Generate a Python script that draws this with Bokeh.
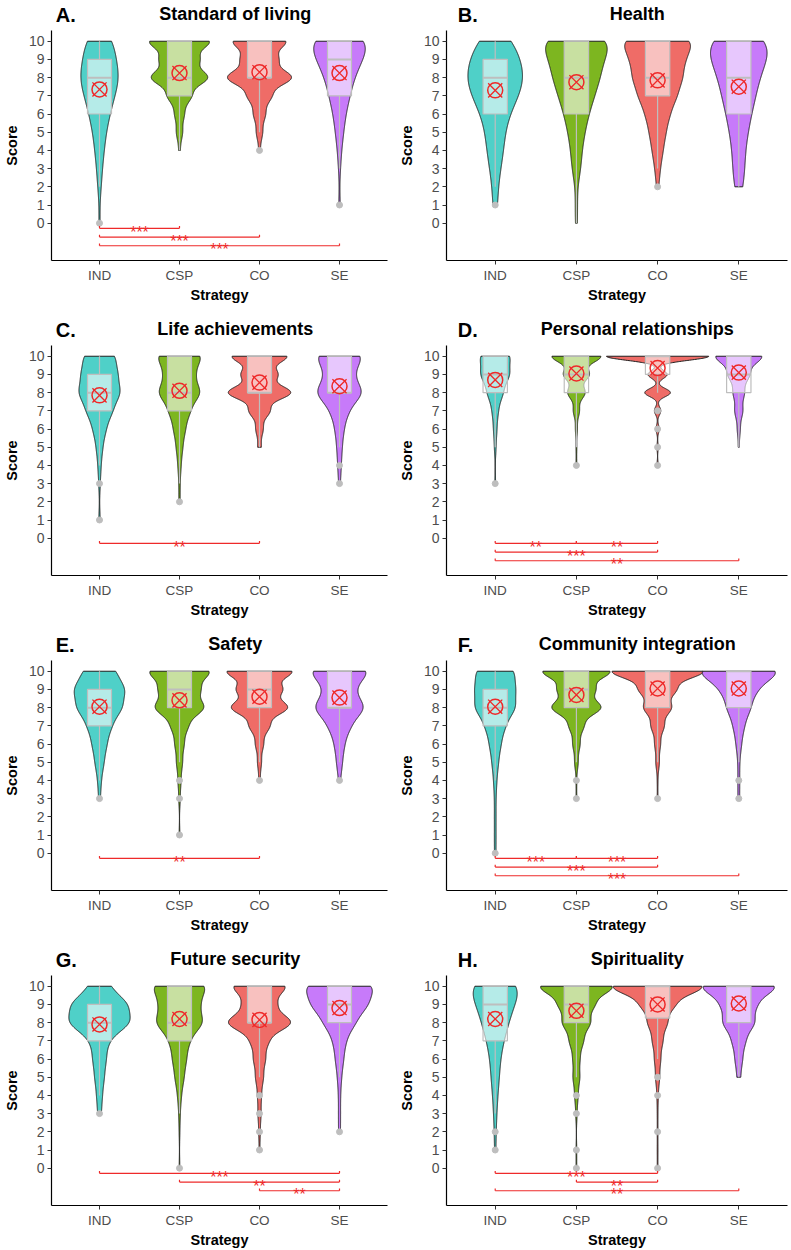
import numpy as np
from bokeh.core.properties import value
from bokeh.embed import file_html
from bokeh.layouts import gridplot
from bokeh.models import ColumnDataSource, FixedTicker, Range1d
from bokeh.plotting import figure
from bokeh.resources import INLINE

FONT = "Liberation Sans"

# ---------------------------------------------------------------- data
STRATEGIES = ["IND", "CSP", "CO", "SE"]
SCORES = list(range(11))
TAGS = ["A.", "B.", "C.", "D.", "E.", "F.", "G.", "H."]
DOMAINS = ["Standard of living", "Health", "Life achievements",
           "Personal relationships", "Safety", "Community integration",
           "Future security", "Spirituality"]

# respondents per strategy group (drives the kernel bandwidth)
GROUP_N = [100, 250, 250, 90]

# share of respondents (%) giving each score 0..10, per strategy
living_freq = {"IND": [1, 0, 2, 3, 5, 7, 11, 16, 22, 17, 16],
               "CSP": [0, 0, 0, 0, 1, 3, 5, 12, 29, 19, 31],
               "CO":  [0, 0, 0, 0, 1, 3, 6, 12, 33, 18, 27],
               "SE":  [0, 1, 0, 1, 2, 4, 7, 11, 16, 25, 33]}
health_freq = {"IND": [0, 2, 2, 4, 6, 7, 10, 17, 21, 18, 13],
               "CSP": [1, 1, 1, 3, 4, 6, 9, 13, 17, 19, 26],
               "CO":  [0, 0, 1, 2, 4, 6, 9, 14, 18, 19, 27],
               "SE":  [0, 0, 3, 4, 5, 7, 9, 12, 14, 20, 26]}
achieve_freq = {"IND": [0, 1, 0, 1, 2, 4, 8, 16, 26, 22, 20],
                "CSP": [0, 0, 1, 1, 2, 4, 7, 13, 26, 18, 28],
                "CO":  [0, 0, 0, 0, 0, 2, 4, 11, 34, 19, 30],
                "SE":  [0, 0, 0, 1, 2, 3, 6, 11, 30, 17, 30]}
relation_freq = {"IND": [0, 0, 0, 1, 0, 2, 4, 7, 18, 33, 35],
                 "CSP": [0, 0, 0, 0, 1, 1, 2, 6, 17, 25, 48],
                 "CO":  [0, 0, 0, 0, 1, 1, 2, 4, 16, 12, 64],
                 "SE":  [0, 0, 0, 0, 0, 1, 3, 9, 12, 23, 52]}
safety_freq = {"IND": [0, 0, 0, 1, 2, 5, 8, 13, 25, 28, 18],
               "CSP": [0, 0.5, 0, 1, 1.5, 3, 5, 9, 26, 21, 33],
               "CO":  [0, 0, 0, 0, 1, 2, 4, 10, 28, 22, 33],
               "SE":  [0, 0, 0, 0, 1, 3, 6, 12, 29, 15, 34]}
community_freq = {"IND": [0.5, 0.5, 0.5, 0.5, 2, 4, 7, 12, 25, 24, 24],
                  "CSP": [0, 0, 0, 0.5, 0.5, 2, 4, 8, 27, 20, 38],
                  "CO":  [0, 0, 0, 0.5, 0.5, 2, 3, 7, 15, 20, 52],
                  "SE":  [0, 0, 0, 0.5, 1, 1.5, 3, 7, 14, 21, 52]}
future_freq = {"IND": [0, 0, 0, 2, 3, 5, 7, 9, 33, 30, 11],
               "CSP": [0.5, 0, 0.5, 1, 2, 5, 7, 10, 25, 20, 29],
               "CO":  [0, 0.5, 1, 1.5, 2, 4, 6, 9, 33, 16, 27],
               "SE":  [0, 0, 0.5, 0.5, 1, 2, 4, 7, 17, 30, 38]}
spirit_freq = {"IND": [0, 1, 1, 2, 3, 5, 6, 10, 16, 22, 34],
               "CSP": [0.5, 0.5, 0, 1, 2, 4, 4, 8, 16, 20, 44],
               "CO":  [0.5, 0.5, 0.5, 0.5, 1, 2.5, 3.5, 6, 11, 19, 55],
               "SE":  [0, 0, 0, 0, 0, 2, 4, 8, 19, 20, 47]}
FREQ = dict(zip(DOMAINS, [living_freq, health_freq, achieve_freq, relation_freq,
                          safety_freq, community_freq, future_freq, spirit_freq]))

# box-plot summaries, ordered IND, CSP, CO, SE
Q1 = {"Standard of living": [6, 7, 8, 7], "Health": [6, 6, 7, 6],
      "Life achievements": [7, 7, 8, 8], "Personal relationships": [8, 8, 9, 8],
      "Safety": [7, 8, 8, 8], "Community integration": [7, 8, 8, 8],
      "Future security": [7, 7, 8, 8], "Spirituality": [7, 8, 8.25, 8]}
MEDIAN = {"Standard of living": [8, 8, 8, 9], "Health": [8, 8, 8, 8],
          "Life achievements": [8, 8, 8, 8], "Personal relationships": [9, 9, 10, 9],
          "Safety": [8, 9, 9, 8], "Community integration": [8, 9, 10, 10],
          "Future security": [8, 8, 8, 9], "Spirituality": [9, 9, 10, 10]}
Q3 = {"Standard of living": [9, 10, 10, 10], "Health": [9, 10, 10, 10],
      "Life achievements": [9, 10, 10, 10], "Personal relationships": [10, 10, 10, 10],
      "Safety": [9, 10, 10, 10], "Community integration": [9, 10, 10, 10],
      "Future security": [9, 10, 10, 10], "Spirituality": [10, 10, 10, 10]}
WHISKER_LOW = {"Standard of living": [2, 4, 5, 3], "Health": [2, 0, 3, 2],
               "Life achievements": [4, 3, 5, 5], "Personal relationships": [5, 5, 8, 5],
               "Safety": [4, 5, 5, 5], "Community integration": [4, 5, 5, 5],
               "Future security": [4, 3, 5, 5], "Spirituality": [3, 5, 6, 5]}
WHISKER_HIGH = {d: [10, 10, 10, 10] for d in DOMAINS}
MEAN = {"Standard of living": [7.35, 8.25, 8.3, 8.25], "Health": [7.3, 7.75, 7.85, 7.5],
        "Life achievements": [7.85, 8.1, 8.55, 8.35],
        "Personal relationships": [8.7, 9.05, 9.35, 9.1],
        "Safety": [8.05, 8.4, 8.6, 8.55], "Community integration": [8.05, 8.7, 9.05, 9.05],
        "Future security": [7.9, 8.2, 8.15, 8.8], "Spirituality": [8.2, 8.65, 9.0, 9.05]}
OUTLIERS = {"Standard of living": [[0], [], [4], [1]],
            "Health": [[1], [], [2], []],
            "Life achievements": [[3, 1], [2], [], [4, 3]],
            "Personal relationships": [[3], [4], [7, 6, 5, 4], []],
            "Safety": [[3], [4, 3, 1], [4], [4]],
            "Community integration": [[0], [4, 3], [3], [4, 3]],
            "Future security": [[3], [0], [4, 3, 2, 1], [2]],
            "Spirituality": [[2, 1], [4, 3, 1, 0], [5, 4, 2, 0], []]}

# pairwise comparisons: (group, group, significance, bracket row)
SIGNIF = {"Standard of living": [("IND", "CSP", "***", 0), ("IND", "CO", "***", 1),
                                 ("IND", "SE", "***", 2)],
          "Health": [],
          "Life achievements": [("IND", "CO", "**", 0)],
          "Personal relationships": [("IND", "CSP", "**", 0), ("CSP", "CO", "**", 0),
                                     ("IND", "CO", "***", 1), ("IND", "SE", "**", 2)],
          "Safety": [("IND", "CO", "**", 0)],
          "Community integration": [("IND", "CSP", "***", 0), ("CSP", "CO", "***", 0),
                                    ("IND", "CO", "***", 1), ("IND", "SE", "***", 2)],
          "Future security": [("IND", "SE", "***", 0), ("CSP", "SE", "**", 1),
                              ("CO", "SE", "**", 2)],
          "Spirituality": [("IND", "CO", "***", 0), ("CSP", "CO", "**", 1),
                           ("IND", "SE", "**", 2)]}

# ---------------------------------------------------------------- style
FILLS = ["#4FD0C8", "#7DB620", "#EF6C67", "#C77AFA"]
OUTLINE = "#1E1E1E"
BOX_LINE = "#BEBEBE"
RED = "#EE2A2A"
VIOLIN_SPAN = [0.80, 0.81, 0.78, 1.26, 0.81, 1.12, 0.82, 1.09]
BOX_HALF = 0.15
BRACKET_Y0, BRACKET_STEP, BRACKET_TICK = -0.28, 0.48, 0.13
COL_WIDTH = [395, 396]
BORDER_L = [45, 51]
BORDER_R = [8, 4]
TAG_X = [5, 13]
HEADER_H = 30


def bw_nrd0(x):
    sd = np.std(x, ddof=1)
    q25, q75 = np.percentile(x, [25, 75])
    lo = min(sd, (q75 - q25) / 1.34)
    if lo <= 0:
        lo = sd if sd > 0 else 1.0
    return 0.9 * lo * len(x) ** (-0.2)


def violin_density(freq, n):
    counts = np.round(np.asarray(freq, float) / 100.0 * n).astype(int)
    counts[(counts == 0) & (np.asarray(freq) > 0)] = 1
    x = np.repeat(SCORES, counts).astype(float)
    bw = bw_nrd0(x)
    grid = np.linspace(x.min(), x.max(), 500)
    z = (grid[:, None] - x[None, :]) / bw
    dens = np.exp(-0.5 * z ** 2).sum(axis=1) / (len(x) * bw * np.sqrt(2 * np.pi))
    return grid, dens


def build_header(k):
    """Strip above a panel carrying its letter tag and title."""
    col = k % 2
    w = COL_WIDTH[col]
    h = figure(width=w, height=HEADER_H, x_range=Range1d(0, w), y_range=Range1d(0, HEADER_H),
               output_backend="svg", toolbar_location=None, min_border=0,
               x_axis_location=None, y_axis_location=None)
    h.grid.visible = False
    h.outline_line_color = None
    centre = BORDER_L[col] + (w - BORDER_L[col] - BORDER_R[col]) / 2
    h.text(x=[centre], y=[17], text=[DOMAINS[k]], text_font=value(FONT),
           text_font_size="18px", text_font_style="bold", text_color="black",
           text_align="center", text_baseline="middle")
    h.text(x=[TAG_X[col]], y=[16], text=[TAGS[k]], text_font=value(FONT),
           text_font_size="20px", text_font_style="bold", text_color="black",
           text_align="left", text_baseline="middle")
    return h


def build_panel(k):
    domain = DOMAINS[k]
    col = k % 2
    last = k >= 6
    pos = [1, 2, 3, 4]
    p = figure(width=COL_WIDTH[col], height=(305 if last else 315) - HEADER_H,
               x_range=Range1d(0.4, 4.6), y_range=Range1d(-2.05, 10.59),
               output_backend="svg", toolbar_location=None,
               min_border_left=BORDER_L[col], min_border_right=BORDER_R[col],
               min_border_top=0, min_border_bottom=45 if last else 55)
    p.xgrid.visible = False
    p.ygrid.visible = False
    p.outline_line_color = None

    # axes
    for ax in (p.xaxis[0], p.yaxis[0]):
        ax.axis_line_color = "black"
        ax.axis_line_width = 1.2
        ax.major_tick_line_color = "#333333"
        ax.major_tick_out = 4
        ax.major_tick_in = 0
        ax.minor_tick_line_color = None
        ax.major_label_text_font = FONT
        ax.major_label_text_color = "#4D4D4D"
        ax.axis_label_text_font = FONT
        ax.axis_label_text_font_style = "bold"
        ax.axis_label_text_font_size = "14.5px"
        ax.axis_label_text_color = "black"
    p.xaxis.ticker = FixedTicker(ticks=pos)
    p.xaxis.major_label_overrides = {i: s for i, s in zip(pos, STRATEGIES)}
    p.xaxis.major_label_text_font_size = "13.5px"
    p.xaxis.major_label_standoff = 3
    p.xaxis.axis_label = "Strategy"
    p.xaxis.axis_label_standoff = 1
    p.yaxis.ticker = FixedTicker(ticks=SCORES)
    p.yaxis.major_label_text_font_size = "14px"
    p.yaxis.major_label_standoff = 3
    p.yaxis.axis_label = "Score"
    p.yaxis.axis_label_standoff = 6

    # violins
    dens = [violin_density(FREQ[domain][g], n) for g, n in zip(STRATEGIES, GROUP_N)]
    scale = VIOLIN_SPAN[k] / 2.0 / max(d.max() for _, d in dens)
    xs, ys = [], []
    for c, (grid, d) in zip(pos, dens):
        half = d * scale
        xs.append(np.concatenate([c + half, (c - half)[::-1]]))
        ys.append(np.concatenate([grid, grid[::-1]]))
    p.patches(xs=xs, ys=ys, fill_color=FILLS, line_color=OUTLINE, line_width=1)

    # box plots
    q1, med, q3 = Q1[domain], MEDIAN[domain], Q3[domain]
    lo, hi = WHISKER_LOW[domain], WHISKER_HIGH[domain]
    p.segment(x0=pos, x1=pos, y0=q3, y1=hi, line_color=BOX_LINE, line_width=1.2)
    p.segment(x0=pos, x1=pos, y0=q1, y1=lo, line_color=BOX_LINE, line_width=1.2)
    p.quad(left=[c - BOX_HALF for c in pos], right=[c + BOX_HALF for c in pos],
           bottom=q1, top=q3, fill_color="white", fill_alpha=0.58,
           line_color=BOX_LINE, line_width=1.2)
    p.segment(x0=[c - BOX_HALF for c in pos], x1=[c + BOX_HALF for c in pos],
              y0=med, y1=med, line_color=BOX_LINE, line_width=2)

    ox = [c for c, vals in zip(pos, OUTLIERS[domain]) for _ in vals]
    oy = [v for vals in OUTLIERS[domain] for v in vals]
    if ox:
        p.scatter(x=ox, y=oy, size=6, color=BOX_LINE)

    # group means
    p.scatter(x=pos, y=MEAN[domain], marker="circle", size=15, fill_color=None,
              line_color=RED, line_width=1.5)
    p.scatter(x=pos, y=MEAN[domain], marker="x", size=20, line_color=RED, line_width=1.3)

    # significance brackets
    comps = SIGNIF[domain]
    if comps:
        idx = {g: c for g, c in zip(STRATEGIES, pos)}
        bx0 = [idx[a] for a, b, s, r in comps]
        bx1 = [idx[b] for a, b, s, r in comps]
        by = [BRACKET_Y0 - BRACKET_STEP * r for a, b, s, r in comps]
        p.segment(x0=bx0, x1=bx1, y0=by, y1=by, line_color=RED, line_width=1.2)
        p.segment(x0=bx0 + bx1, x1=bx0 + bx1, y0=by + by,
                  y1=[y + BRACKET_TICK for y in by + by], line_color=RED, line_width=1.2)
        src = ColumnDataSource(dict(x=[(a + b) / 2 for a, b in zip(bx0, bx1)], y=by,
                                    t=[s for a, b, s, r in comps]))
        p.text(x="x", y="y", text="t", source=src, text_font=value(FONT),
               text_font_size="16px", text_color=RED, text_align="center",
               text_baseline="alphabetic", y_offset=4)
    return p


rows = []
for r in range(4):
    rows.append([build_header(2 * r), build_header(2 * r + 1)])
    rows.append([build_panel(2 * r), build_panel(2 * r + 1)])
grid = gridplot(rows, toolbar_location=None)

open("out.html", "w").write(file_html(grid, INLINE))
